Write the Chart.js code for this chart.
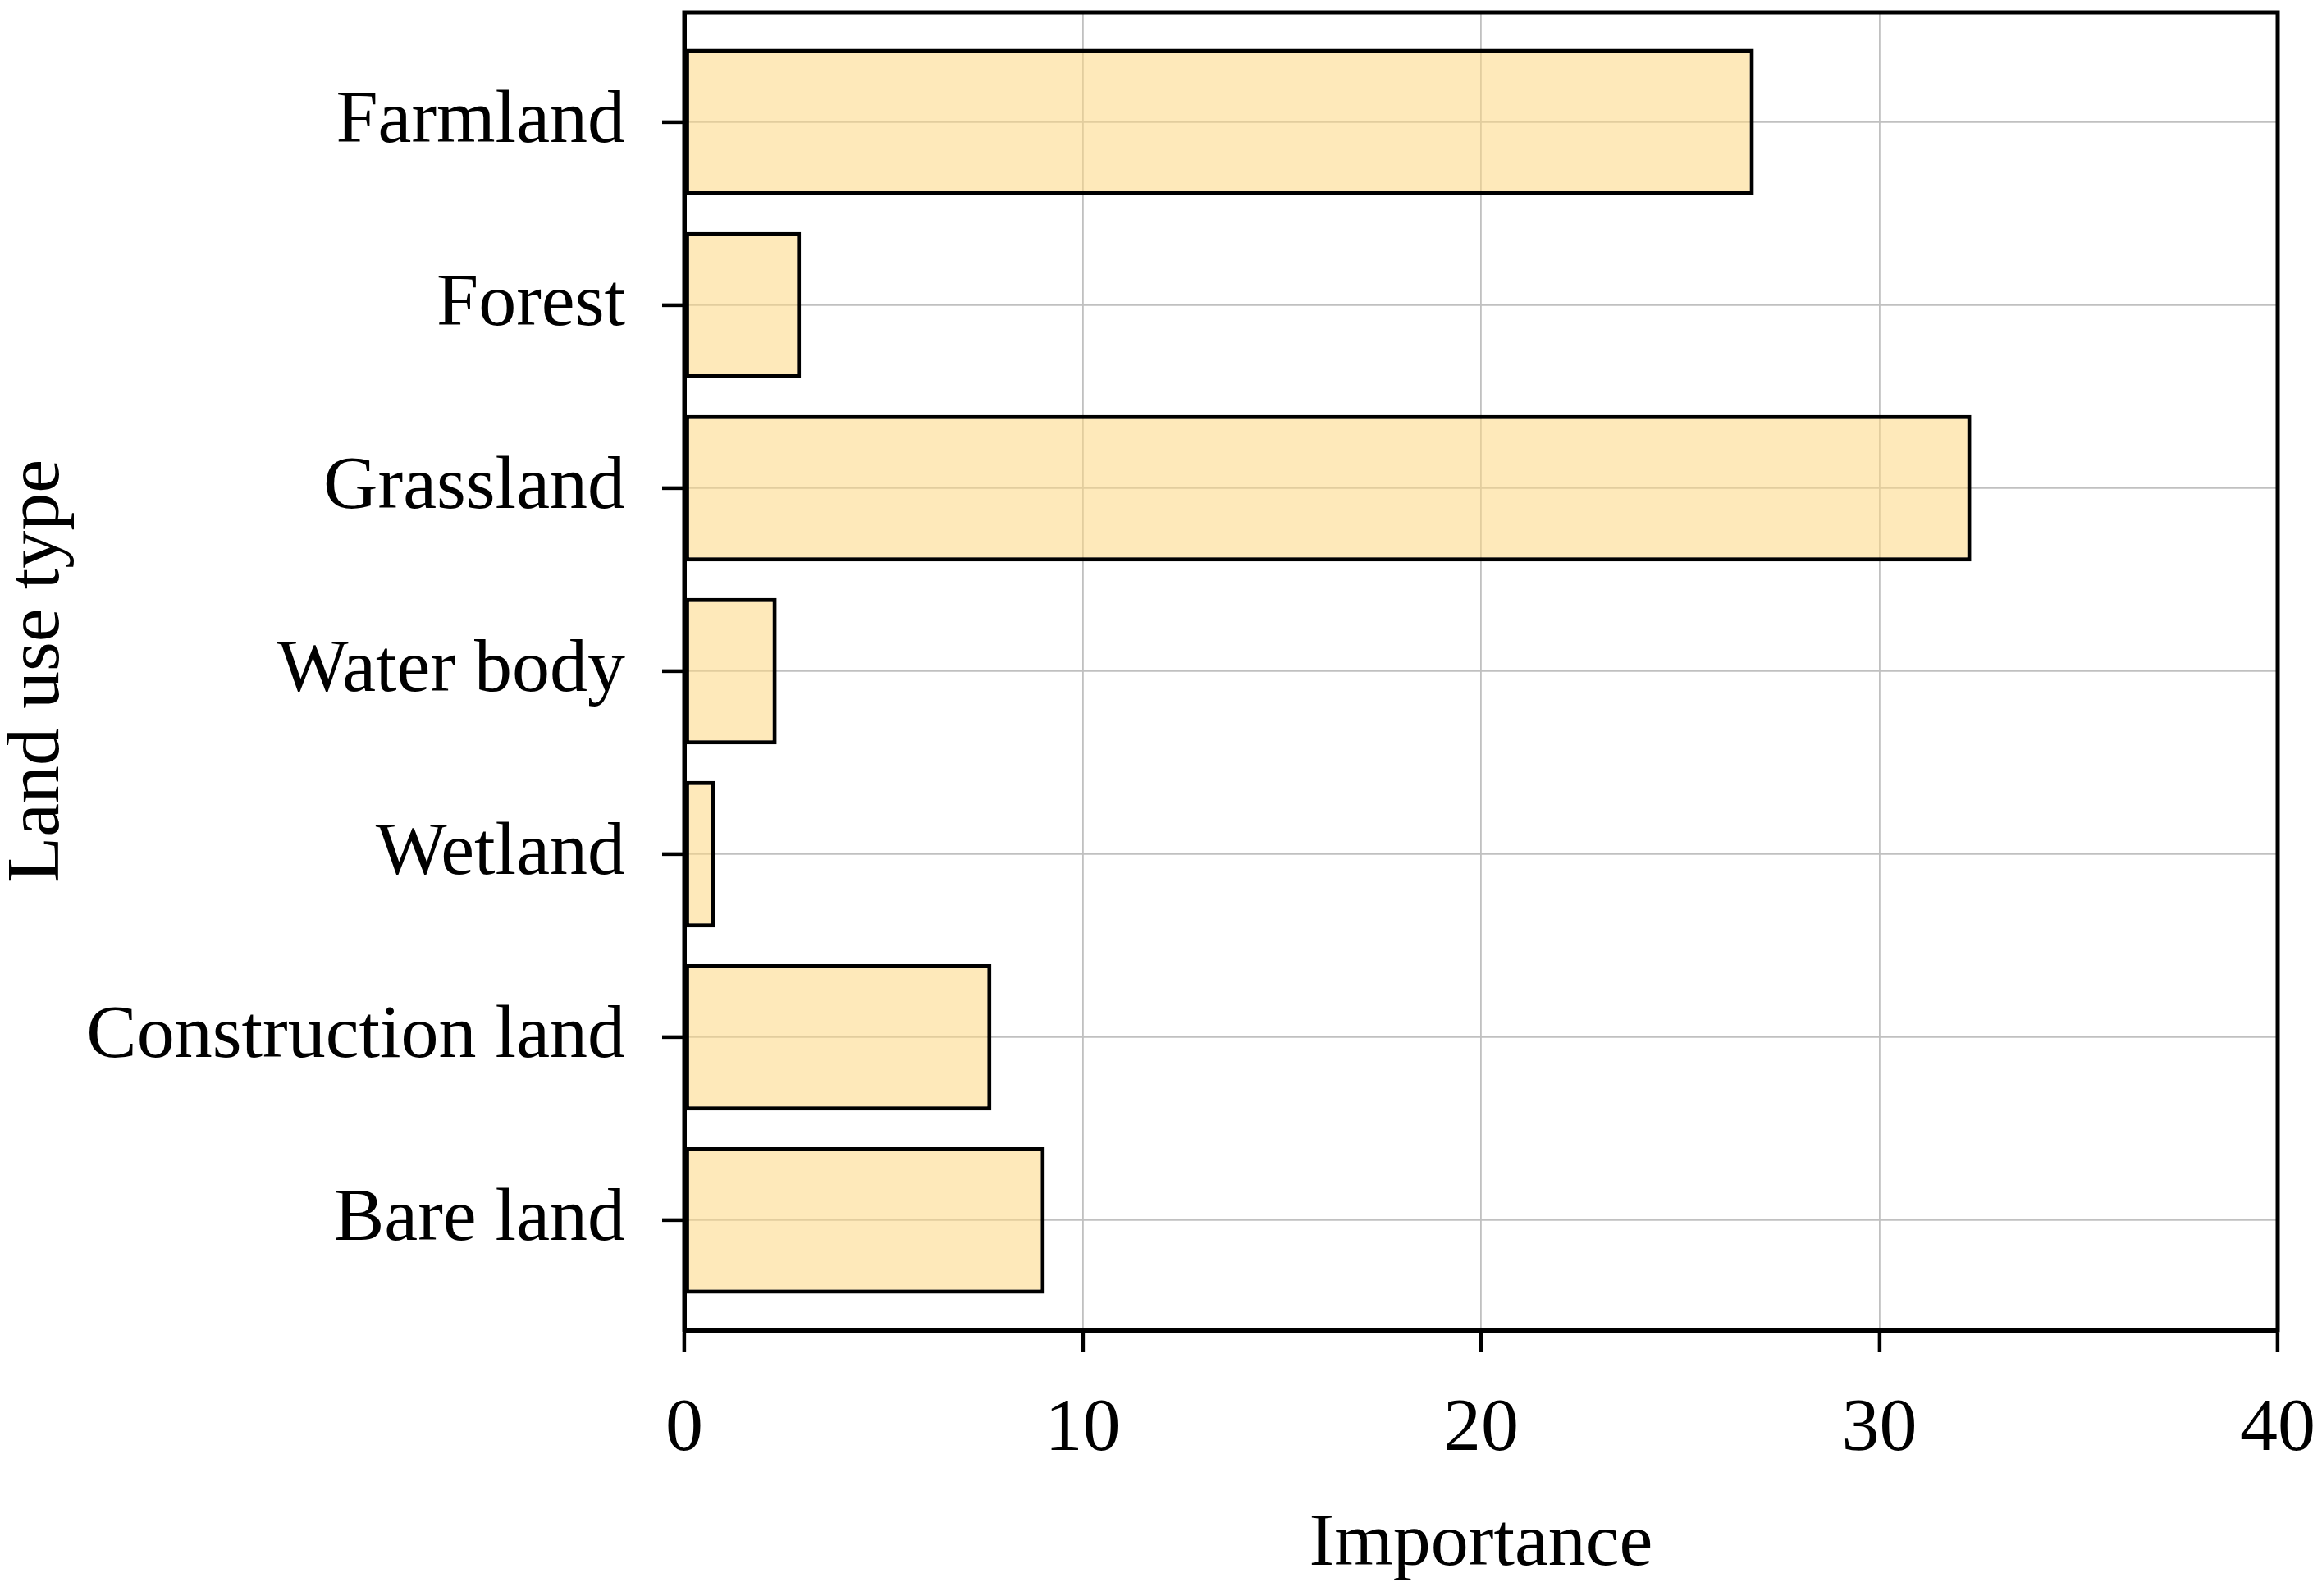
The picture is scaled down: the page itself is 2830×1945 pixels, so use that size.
<!DOCTYPE html>
<html>
<head>
<meta charset="utf-8">
<script src="https://cdn.jsdelivr.net/npm/chart.js@4/dist/chart.umd.min.js"></script>
<style>
    html, body { margin: 0; padding: 0; background: #fff; }
    canvas { display: block; }
</style>
</head>
<body>
<canvas id="importance-chart" width="2830" height="1945"></canvas>
<script>
// land use categories, top to bottom
const landTypes = ['Farmland', 'Forest', 'Grassland', 'Water body', 'Wetland', 'Construction land', 'Bare land'];
// importance values
const importance = [26.85, 2.93, 32.31, 2.32, 0.77, 7.71, 9.05];
const xTicks = [0, 10, 20, 30, 40];

const serif = '"Liberation Serif", "Times New Roman", serif';

// box round the plot area (top and right sides too)
const frame = {
    id: 'frame',
    afterDraw(chart) {
        const { ctx, chartArea } = chart;
        ctx.save();
        ctx.strokeStyle = '#000';
        ctx.lineWidth = 5;
        ctx.strokeRect(chartArea.left, chartArea.top, chartArea.right - chartArea.left, chartArea.bottom - chartArea.top);
        ctx.restore();
    }
};

new Chart(document.getElementById('importance-chart'), {
    type: 'bar',
    data: {
        datasets: [{
            data: importance.map((v, i) => ({ x: v, y: i })),
            backgroundColor: 'rgba(253, 215, 130, 0.55)',
            borderColor: '#000',
            borderWidth: 5,
            borderSkipped: false,
            barPercentage: 0.8,
            categoryPercentage: 1
        }]
    },
    options: {
        indexAxis: 'y',
        responsive: false,
        animation: false,
        devicePixelRatio: 1,
        layout: { padding: { top: 15, right: 54, left: 0, bottom: 0 } },
        plugins: {
            legend: { display: false },
            tooltip: { enabled: false }
        },
        scales: {
            x: {
                type: 'linear',
                min: 0,
                max: 40,
                afterBuildTicks: (scale) => { scale.ticks = xTicks.map(v => ({ value: v })); },
                afterFit: (scale) => {
                    scale.height = 324;
                    scale.paddingLeft = 0;
                    scale.paddingRight = 0;
                },
                grid: { color: '#c0c0c0', lineWidth: 1.8, tickColor: '#000', tickWidth: 4.5, tickLength: 27 },
                border: { color: '#000', width: 5 },
                ticks: { color: '#000', padding: 40, font: { family: serif, size: 92 } },
                title: {
                    display: true,
                    text: 'Importance',
                    color: '#000',
                    font: { family: serif, size: 92, lineHeight: 1 },
                    padding: { top: 0, bottom: 16 }
                }
            },
            y: {
                type: 'linear',
                reverse: true,
                offset: false,
                min: -0.6,
                max: 6.6,
                afterBuildTicks: (scale) => { scale.ticks = landTypes.map((_, i) => ({ value: i })); },
                afterFit: (scale) => {
                    scale.width = 834;
                    scale.paddingTop = 0;
                    scale.paddingBottom = 0;
                },
                grid: { offset: false, color: '#c0c0c0', lineWidth: 1.8, tickColor: '#000', tickWidth: 4.5, tickLength: 27 },
                border: { color: '#000', width: 5 },
                ticks: {
                    color: '#000',
                    padding: 45,
                    font: { family: serif, size: 92 },
                    callback: (v) => landTypes[v]
                },
                title: {
                    display: true,
                    text: 'Land use type',
                    color: '#000',
                    font: { family: serif, size: 92, lineHeight: 1 },
                    padding: { top: 1, bottom: 0 }
                }
            }
        }
    },
    plugins: [frame]
});
</script>
</body>
</html>
